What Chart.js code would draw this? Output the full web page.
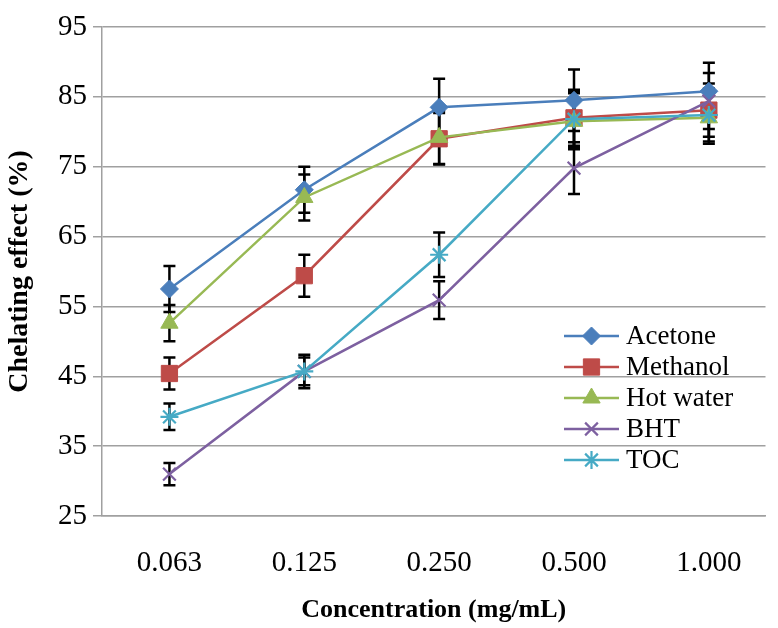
<!DOCTYPE html>
<html>
<head>
<meta charset="utf-8">
<script src="https://cdn.jsdelivr.net/npm/chart.js"></script>
<style>
html,body{margin:0;padding:0;background:#fff;overflow:hidden;}
#wrap{width:778px;height:628px;position:relative;}
</style>
</head>
<body>
<div id="wrap"><canvas id="chelChart"></canvas></div>
<script>
// concentration categories (mg/mL)
const concLabels = ['0.063','0.125','0.250','0.500','1.000'];
const yTicks = [25,35,45,55,65,75,85,95];

// chelating effect (%)
const acetone  = [57.5, 71.7, 83.5, 84.5, 85.8];
const methanol = [45.4, 59.4, 79.0, 82.0, 83.1];
const hotWater = [52.6, 70.6, 79.2, 81.5, 82.0];
const bht      = [31.0, 45.7, 55.9, 74.8, 84.4];
const toc      = [39.2, 45.7, 62.4, 81.8, 82.4];

// +/- error (SD)
const acetoneErr  = [3.3, 3.3, 4.1, 4.4, 4.1];
const methanolErr = [2.3, 3.0, 3.7, 4.0, 3.8];
const hotWaterErr = [2.6, 3.3, 3.8, 4.0, 3.7];
const bhtErr      = [1.6, 2.0, 2.7, 3.7, 4.0];
const tocErr      = [1.9, 2.4, 3.2, 4.0, 3.8];

const FONT = "'Liberation Serif','Times New Roman',serif";
const GRID = '#a0a0a0';

const toPts = arr => arr.map((v,i)=>({x:i,y:v}));

function mkSet(label,data,err,color,style,radius,order){
  return {
    label, data:toPts(data), err,
    borderColor:color, backgroundColor:color,
    borderWidth:2.5, pointStyle:style, pointRadius:radius,
    pointBorderColor:color, pointBackgroundColor:color,
    pointBorderWidth:(style==='crossRot'||style==='star')?2.2:1,
    tension:0, fill:false, order
  };
}

const datasets = [
  mkSet('Acetone',  acetone,  acetoneErr,  '#4a7ebb','rectRot', 9, 5),
  mkSet('Methanol', methanol, methanolErr, '#be4b48','rect',    11.5, 4),
  mkSet('Hot water',hotWater, hotWaterErr, '#98b954','triangle',10, 3),
  mkSet('BHT',      bht,      bhtErr,      '#7d60a0','crossRot',9, 2),
  mkSet('TOC',      toc,      tocErr,      '#46aac5','star',    9, 1)
];

// error bars drawn under the series
const errorBars = {
  id:'errorBars',
  beforeDatasetsDraw(chart){
    const ctx=chart.ctx, xs=chart.scales.x, ys=chart.scales.y;
    ctx.save();
    ctx.strokeStyle='#000';
    ctx.lineWidth=2.5;
    chart.data.datasets.forEach(ds=>{
      ds.data.forEach((p,i)=>{
        const e=ds.err[i];
        const px=xs.getPixelForValue(p.x);
        const top=ys.getPixelForValue(p.y+e), bot=ys.getPixelForValue(p.y-e);
        ctx.beginPath();
        ctx.moveTo(px,top); ctx.lineTo(px,bot);
        ctx.moveTo(px-6,top); ctx.lineTo(px+6,top);
        ctx.moveTo(px-6,bot); ctx.lineTo(px+6,bot);
        ctx.stroke();
      });
    });
    ctx.restore();
  }
};

// legend sitting inside the plot area, lower right
const innerLegend = {
  id:'innerLegend',
  afterDraw(chart){
    const ctx=chart.ctx;
    const x0=564, x1=619, tx=626, y0=336, step=31;
    ctx.save();
    chart.data.datasets.forEach((ds,i)=>{
      const y=y0+i*step;
      ctx.strokeStyle=ds.borderColor;
      ctx.lineWidth=2.5;
      ctx.beginPath(); ctx.moveTo(x0,y); ctx.lineTo(x1,y); ctx.stroke();
      ctx.fillStyle=ds.backgroundColor;
      ctx.lineWidth=ds.pointBorderWidth;
      Chart.helpers.drawPoint(ctx,{pointStyle:ds.pointStyle,radius:ds.pointRadius,borderWidth:ds.pointBorderWidth},(x0+x1)/2,y);
      ctx.fillStyle='#000';
      ctx.font='27px '+FONT;
      ctx.textBaseline='middle';
      ctx.textAlign='left';
      ctx.fillText(ds.label,tx,y+1);
    });
    ctx.restore();
  }
};

new Chart(document.getElementById('chelChart'),{
  type:'line',
  data:{datasets},
  plugins:[errorBars,innerLegend],
  options:{
    responsive:true, maintainAspectRatio:false, animation:false,
    layout:{padding:{top:27,right:0,left:0,bottom:0}},
    plugins:{legend:{display:false},tooltip:{enabled:false}},
    scales:{
      x:{
        type:'linear', min:-0.5, max:4.42,
        afterBuildTicks:s=>{s.ticks=concLabels.map((_,i)=>({value:i}));},
        afterFit:s=>{s.height=112;},
        grid:{display:false,drawTicks:false},
        border:{display:true,color:GRID,width:1.5},
        ticks:{color:'#000',padding:30,font:{family:FONT,size:29},maxRotation:0,
          callback:v=>concLabels[v]},
        title:{display:true,text:'Concentration (mg/mL)',color:'#000',
          font:{family:FONT,size:26,weight:'bold'},padding:{top:0,bottom:2}}
      },
      y:{
        min:25, max:95,
        afterBuildTicks:s=>{s.ticks=yTicks.map(v=>({value:v}));},
        afterFit:s=>{s.width=102;},
        grid:{color:GRID,lineWidth:1.5,tickLength:9,drawTicks:true},
        border:{display:true,color:GRID,width:1.5},
        ticks:{color:'#000',padding:6,font:{family:FONT,size:29}},
        title:{display:true,text:'Chelating effect (%)',color:'#000',
          font:{family:FONT,size:28,weight:'bold'},padding:{top:3,bottom:0}}
      }
    }
  }
});
</script>
</body>
</html>
